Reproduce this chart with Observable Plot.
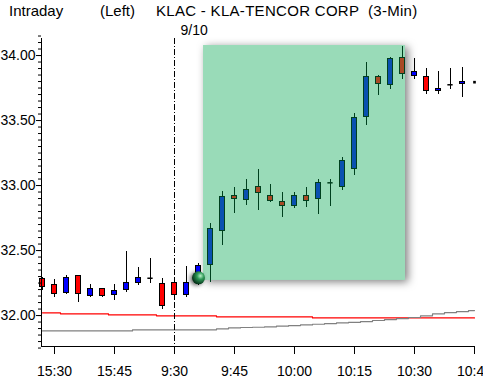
<!DOCTYPE html>
<html><head><meta charset="utf-8">
<script src="https://cdn.jsdelivr.net/npm/d3@7"></script>
<script src="https://cdn.jsdelivr.net/npm/@observablehq/plot@0.6"></script>
<style>
html,body{margin:0;padding:0;background:#fff;overflow:hidden;}
#wrap{position:relative;width:483px;height:382px;}
.t{position:absolute;top:3px;font-family:"Liberation Sans",Arial,sans-serif;font-size:15px;color:#000;white-space:pre;line-height:1;}
</style></head><body>
<div id="wrap">
</div>
<script>
// ---- data (3-minute candles, index 0 = 15:27 previous day, 11 = 9:30 on 9/10) ----
const opens  = [32.285,32.238,32.177,32.308,32.148,32.205,32.159,32.198,32.248,32.287,32.244,32.252,32.159,32.328,
                32.390,32.648,32.923,32.887,32.985,32.921,32.875,32.844,32.921,32.895,33.021,32.990,33.131,33.525,33.836,33.775,33.982,
                33.844,33.836,33.725,33.775,33.782,33.795];
const highs  = [32.292,32.277,32.308,32.308,32.238,32.208,32.238,32.492,32.367,32.436,32.282,32.285,32.377,32.402,
                32.705,32.954,32.985,33.046,33.123,33.008,32.944,32.944,32.982,33.044,33.046,33.215,33.554,33.946,33.846,33.982,34.069,
                33.975,33.898,33.875,33.898,33.905,33.795];
const lows   = [32.190,32.138,32.162,32.100,32.136,32.136,32.115,32.179,32.230,32.244,32.050,32.115,32.141,32.230,
                32.256,32.538,32.787,32.848,32.810,32.869,32.752,32.821,32.831,32.775,32.841,32.960,33.077,33.464,33.695,33.741,33.818,
                33.813,33.702,33.702,33.741,33.679,33.795];
const closes = [32.223,32.162,32.292,32.162,32.205,32.148,32.192,32.252,32.290,32.287,32.072,32.159,32.252,32.385,
                32.667,32.913,32.895,32.969,32.941,32.882,32.844,32.921,32.882,33.021,33.021,33.192,33.521,33.836,33.779,33.975,33.856,
                33.877,33.725,33.744,33.775,33.797,33.795];
const redLine = [32.021,32.021,32.013,32.013,32.013,32.013,32.005,32.005,32.005,32.005,31.998,31.998,31.998,31.998,31.998,
                 31.990,31.990,31.990,31.990,31.990,31.990,31.990,31.990,
                 31.982,31.982,31.982,31.982,31.982,31.982,31.982,31.982,31.982,31.982,31.982,31.982,31.982,31.982];
const greyLine = [31.882,31.882,31.882,31.882,31.882,31.882,31.882,31.882,31.890,31.890,31.890,31.890,31.890,31.890,31.890,
                  31.898,31.905,31.908,31.910,31.913,31.918,31.923,31.928,31.933,31.938,31.944,31.948,31.954,31.962,31.969,31.977,
                  31.985,31.998,32.013,32.023,32.031,32.038];
const xTickIdx = [1, 6, 11, 16, 21, 26, 31, 36];
const xTickLabels = ["15:30","15:45","9:30","9:45","10:00","10:15","10:30","10:45"];
const yTicks = [32.00, 32.50, 33.00, 33.50, 34.00];
const sessionStart = 11;
const dateLabel = "9/10";
const boxRange = [13.42, 30.25];
const boxPrice = [32.27, 34.077];
const markerIdx = [13];
const markerPrice = [32.29];
const xDomain = [-1/12, 36];
const yDomain = [31.762, 34.131];

// ---- build tables ----
const candles = opens.map((o, i) => ({
  i, o, h: highs[i], l: lows[i], c: closes[i],
  inBox: i >= boxRange[0] && i <= boxRange[1]
}));
const lines = redLine.map((v, i) => ({i, red: v, grey: greyLine[i]}));
const minorTicks = d3.range(Math.round(yDomain[0]*20), Math.round(yDomain[1]*20) + 1).map(k => k / 20);

const bodyFill = d => d.inBox ? (d.c > d.o ? "#0a50b0" : "#a84a26") : (d.c > d.o ? "#0000ff" : "#ff0000");
const edge = d => d.inBox ? "#00401e" : "#000000";
const hw = 0.2;

const plot = Plot.plot({
  width: 483, height: 382,
  marginLeft: 41, marginRight: 9, marginTop: 38, marginBottom: 36,
  style: {fontFamily: "'Liberation Sans', Arial, sans-serif", fontSize: "14px", background: "white", overflow: "visible", color: "#000"},
  x: {type: "linear", domain: xDomain, axis: null},
  y: {type: "linear", domain: yDomain, axis: null},
  marks: [
    Plot.rect([{x1: boxRange[0], x2: boxRange[1], y1: boxPrice[0], y2: boxPrice[1]}],
      {x1: "x1", x2: "x2", y1: "y1", y2: "y2", fill: "#99dbb8"}),
    Plot.line(lines, {x: "i", y: "red", stroke: "#ff0000", strokeWidth: 1.2, curve: "step"}),
    Plot.line(lines, {x: "i", y: "grey", stroke: "#808080", strokeWidth: 1.2, curve: "step"}),
    Plot.ruleX([sessionStart], {stroke: "#000", strokeDasharray: "6,2,1,2", strokeWidth: 1}),
    Plot.ruleX(candles, {x: "i", y1: "l", y2: "h", stroke: edge, strokeWidth: 1, shapeRendering: "crispEdges"}),
    Plot.rect(candles.filter(d => d.o !== d.c), {
      x1: d => d.i - hw, x2: d => d.i + hw,
      y1: d => Math.min(d.o, d.c), y2: d => Math.max(d.o, d.c),
      fill: bodyFill, stroke: edge, strokeWidth: 1, shapeRendering: "crispEdges"}),
    Plot.ruleY(candles.filter(d => d.o === d.c && d.h > d.l), {
      x1: d => d.i - 0.22, x2: d => d.i + 0.22, y: "o", stroke: edge, strokeWidth: 1.5}),
    Plot.dot(candles.filter(d => d.h === d.l), {x: "i", y: "o", r: 1.5, symbol: "square", fill: "#000"}),
    Plot.dot(markerIdx.map((m, k) => ({i: m, p: markerPrice[k]})), {x: "i", y: "p", r: 6.5, fill: "url(#ballGrad)"}),
    Plot.ruleX([xDomain[0]], {stroke: "#000", shapeRendering: "crispEdges"}),
    Plot.ruleY([yDomain[0]], {stroke: "#000", shapeRendering: "crispEdges"}),
    Plot.axisY({ticks: minorTicks, tickSize: 3, tickFormat: () => "", label: null}),
    Plot.axisY({ticks: yTicks, tickSize: 5, tickPadding: 1, tickFormat: d3.format(".2f"), label: null}),
    Plot.axisX({ticks: xTickIdx, tickSize: 8, tickPadding: 12, label: null,
      tickFormat: d => xTickLabels[xTickIdx.indexOf(d)]}),
    Plot.text([{i: sessionStart, t: dateLabel}], {x: "i", text: "t", frameAnchor: "top", dy: -13, dx: 6, textAnchor: "start", fontSize: 14})
  ]
});

// gradient for the glossy marker + shadow on the highlighted box
const defs = d3.select(plot).insert("defs", ":first-child");
const g = defs.append("radialGradient").attr("id", "ballGrad").attr("cx", "65%").attr("cy", "35%").attr("r", "65%");
g.append("stop").attr("offset", "0%").attr("stop-color", "#b8f0c8");
g.append("stop").attr("offset", "40%").attr("stop-color", "#2f9a58");
g.append("stop").attr("offset", "100%").attr("stop-color", "#06331a");
const boxG = plot.querySelector('g[aria-label="rect"]');
if (boxG) boxG.style.filter = "drop-shadow(3px 2px 4px rgba(0,0,0,0.5))";
const dotGs = plot.querySelectorAll('g[aria-label="dot"]');
if (dotGs.length) dotGs[dotGs.length - 1].style.filter = "drop-shadow(-2px 1px 2px rgba(0,0,0,0.6))";

const wrap = document.getElementById("wrap");
wrap.appendChild(plot);
const titles = [["Intraday", 9, 0], ["(Left)", 100, 0], ["KLAC - KLA-TENCOR CORP  (3-Min)", 156, 0.3]];
for (const [txt, left, ls] of titles) {
  const s = document.createElement("div");
  s.className = "t"; s.textContent = txt; s.style.left = left + "px";
  if (ls) s.style.letterSpacing = ls + "px";
  wrap.appendChild(s);
}
</script>
</body></html>
